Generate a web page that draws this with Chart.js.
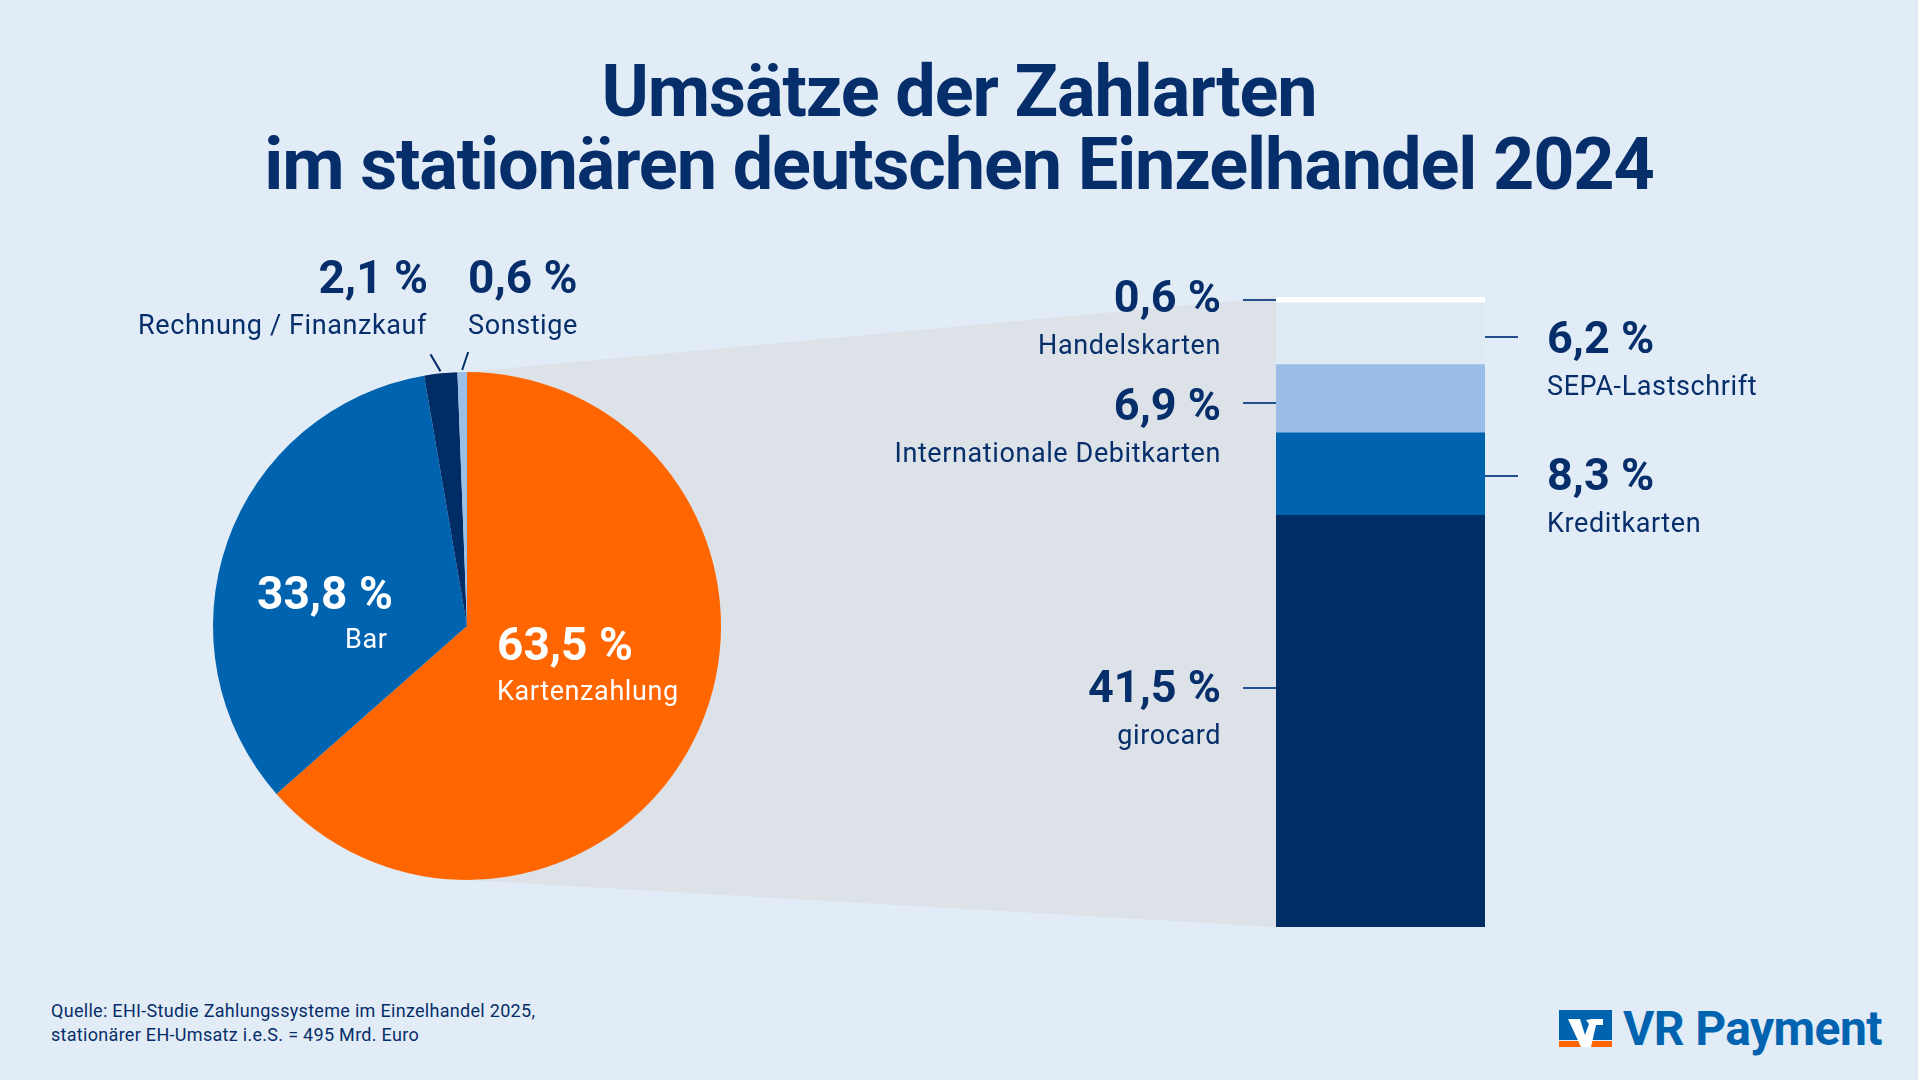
<!DOCTYPE html>
<html lang="de">
<head>
  <meta charset="UTF-8" />
  <title>Umsätze der Zahlarten 2024 | VR Payment</title>
  <script src="https://cdn.jsdelivr.net/npm/chart.js"></script>
  <style>
    html, body {
      margin: 0;
      padding: 0;
    }
    body {
      width: 1918px;
      height: 1080px;
      background: #e2ecf6;
      position: relative;
      overflow: hidden;
      font-family: Roboto, 'Noto Sans', sans-serif;
      color: #062e6a;
    }
    h1 {
      position: absolute;
      left: 0;
      right: 0;
      top: 55px;
      margin: 0;
      text-align: center;
      font-size: 72px;
      line-height: 73px;
      font-weight: 700;
      letter-spacing: -1.1px;
    }
    canvas {
      position: absolute;
      left: 0;
      top: 0;
    }
    #pieChart { z-index: 1; }
    #barChart { z-index: 2; }
    .source {
      position: absolute;
      left: 51px;
      top: 999px;
      font-size: 18px;
      line-height: 24px;
      letter-spacing: 0.3px;
    }
    .logo {
      position: absolute;
      left: 1559px;
      top: 1000px;
      display: flex;
      align-items: center;
      gap: 11px;
      color: #0063b0;
      font-size: 48px;
      font-weight: 700;
      letter-spacing: -0.6px;
    }
  </style>
</head>
<body>
  <h1>Umsätze der Zahlarten<br>im stationären deutschen Einzelhandel 2024</h1>

  <canvas id="pieChart" width="1918" height="1080"></canvas>
  <canvas id="barChart" width="1918" height="1080"></canvas>

  <div class="source">
    Quelle: EHI-Studie Zahlungssysteme im Einzelhandel 2025,<br>
    stationärer EH-Umsatz i.e.S. = 495 Mrd. Euro
  </div>

  <div class="logo">
    <svg width="53" height="37" viewBox="0 0 53 37">
      <rect x="0" y="0" width="53" height="30" fill="#0063b0"/>
      <rect x="0" y="31" width="53" height="6" fill="#ff6600"/>
      <polygon points="9,9 21,9 26,25 30,14 27,10 33,9 44,9 44,15 37,15 32,37 22,37" fill="#fff"/>
    </svg>
    <span>VR Payment</span>
  </div>

  <script>
    // share of turnover by payment type, in percent
    const payLabels = ['Kartenzahlung', 'Bar', 'Rechnung / Finanzkauf', 'Sonstige'];
    const payValues = [63.5, 33.8, 2.1, 0.6];

    // breakdown of card payments, bottom to top
    const cardLabels = ['girocard', 'Kreditkarten', 'Internationale Debitkarten', 'SEPA-Lastschrift', 'Handelskarten'];
    const cardValues = [41.5, 8.3, 6.9, 6.2, 0.6];

    const NAVY = '#062e6a';
    const TICK = '#24508f';
    const payColors = ['#ff6600', '#0063b0', '#002d65', '#9bbfe7'];
    const cardColors = ['#002d65', '#0063b0', '#99bde7', '#e0eaf5', '#ffffff'];

    const pct = v => v.toFixed(1).replace('.', ',') + ' %';

    // labels + little leader ticks next to the stacked bar
    const cardLabelPlugin = {
      id: 'cardLabels',
      afterDatasetsDraw(chart) {
        const ctx = chart.ctx;
        const side = ['left', 'right', 'left', 'right', 'left'];
        const anchor = [0.42, 0.5, 0.5, 0.5, 0.5];
        const tickShift = [0, 2, 4, 3, 0];
        const textShift = [0, 0, 3, 2, -2];
        ctx.save();
        cardValues.forEach((v, i) => {
          const bar = chart.getDatasetMeta(i).data[0];
          const left = bar.x - bar.width / 2;
          const right = bar.x + bar.width / 2;
          const ty = Math.round(bar.y + (bar.base - bar.y) * anchor[i]) + tickShift[i];
          const yt = ty + textShift[i];
          let x;
          ctx.strokeStyle = TICK;
          ctx.lineWidth = 2;
          ctx.beginPath();
          if (side[i] === 'left') {
            ctx.moveTo(left - 33, ty);
            ctx.lineTo(left, ty);
            ctx.textAlign = 'right';
            x = left - 55;
          } else {
            ctx.moveTo(right, ty);
            ctx.lineTo(right + 33, ty);
            ctx.textAlign = 'left';
            x = right + 62;
          }
          ctx.stroke();
          ctx.fillStyle = NAVY;
          ctx.textBaseline = 'alphabetic';
          ctx.letterSpacing = '0px';
          ctx.font = 'bold 45px Roboto';
          ctx.fillText(pct(v), x, yt + 14);
          ctx.letterSpacing = '0.6px';
          ctx.font = '27px Roboto';
          ctx.fillText(cardLabels[i], x, yt + 56);
        });
        ctx.restore();
      }
    };

    const barChart = new Chart(document.getElementById('barChart'), {
      type: 'bar',
      data: {
        labels: ['Kartenzahlung'],
        datasets: cardLabels.map((name, i) => ({
          label: name,
          data: [cardValues[i]],
          backgroundColor: cardColors[i],
          borderWidth: 0,
          barPercentage: 1,
          categoryPercentage: 1
        }))
      },
      options: {
        responsive: false,
        animation: false,
        devicePixelRatio: 1,
        layout: { padding: { left: 1276, right: 433, top: 297, bottom: 153 } },
        scales: {
          x: { stacked: true, display: false },
          y: { stacked: true, display: false, min: 0, max: cardValues.reduce((a, b) => a + b, 0) }
        },
        plugins: {
          legend: { display: false },
          tooltip: { enabled: false }
        }
      },
      plugins: [cardLabelPlugin]
    });

    // grey "zoom" band from the pie to the stacked bar
    const wedgePlugin = {
      id: 'wedge',
      beforeDatasetsDraw(chart) {
        const ctx = chart.ctx;
        const arc = chart.getDatasetMeta(0).data[0];
        const top = barChart.getDatasetMeta(cardValues.length - 1).data[0];
        const bottom = barChart.getDatasetMeta(0).data[0];
        const left = bottom.x - bottom.width / 2;
        ctx.save();
        ctx.fillStyle = '#dce2e7';
        ctx.beginPath();
        ctx.moveTo(arc.x, arc.y - arc.outerRadius);
        ctx.lineTo(left, top.y);
        ctx.lineTo(left, bottom.base);
        ctx.lineTo(arc.x, arc.y + arc.outerRadius);
        ctx.closePath();
        ctx.fill();
        ctx.restore();
      }
    };

    const pieLabelPlugin = {
      id: 'pieLabels',
      afterDatasetsDraw(chart) {
        const ctx = chart.ctx;
        const arcs = chart.getDatasetMeta(0).data;
        const cx = arcs[0].x, cy = arcs[0].y, r = arcs[0].outerRadius;
        // [align, value x, value y, name x, name y, colour]
        const spots = [
          ['left', cx + 30, cy + 34, cx + 30, cy + 74, '#ffffff'],
          ['left', cx - 210, cy - 17, cx - 122, cy + 22, '#ffffff'],
          ['right', cx - 39, cy - r - 79, cx - 40, cy - r - 38, NAVY],
          ['left', cx + 1, cy - r - 79, cx + 1, cy - r - 38, NAVY]
        ];
        const leaders = { 2: [-10, -17], 3: [6, -18] };
        ctx.save();
        payValues.forEach((v, i) => {
          const s = spots[i];
          ctx.textAlign = s[0];
          ctx.textBaseline = 'alphabetic';
          ctx.fillStyle = s[5];
          ctx.letterSpacing = '0px';
          ctx.font = 'bold 46px Roboto';
          ctx.fillText(pct(v), s[1], s[2]);
          ctx.letterSpacing = '0.6px';
          ctx.font = '27px Roboto';
          ctx.fillText(payLabels[i], s[3], s[4]);
          if (leaders[i]) {
            const a = (arcs[i].startAngle + arcs[i].endAngle) / 2;
            const x0 = cx + (r + 2) * Math.cos(a);
            const y0 = cy + (r + 2) * Math.sin(a);
            ctx.strokeStyle = NAVY;
            ctx.lineWidth = 2;
            ctx.beginPath();
            ctx.moveTo(x0, y0);
            ctx.lineTo(x0 + leaders[i][0], y0 + leaders[i][1]);
            ctx.stroke();
          }
        });
        ctx.restore();
      }
    };

    new Chart(document.getElementById('pieChart'), {
      type: 'pie',
      data: {
        labels: payLabels,
        datasets: [{
          data: payValues,
          backgroundColor: payColors,
          borderWidth: 0
        }]
      },
      options: {
        responsive: false,
        animation: false,
        devicePixelRatio: 1,
        layout: { padding: { left: 213, top: 372, right: 1197, bottom: 200 } },
        plugins: {
          legend: { display: false },
          tooltip: { enabled: false }
        }
      },
      plugins: [wedgePlugin, pieLabelPlugin]
    });
  </script>
</body>
</html>
